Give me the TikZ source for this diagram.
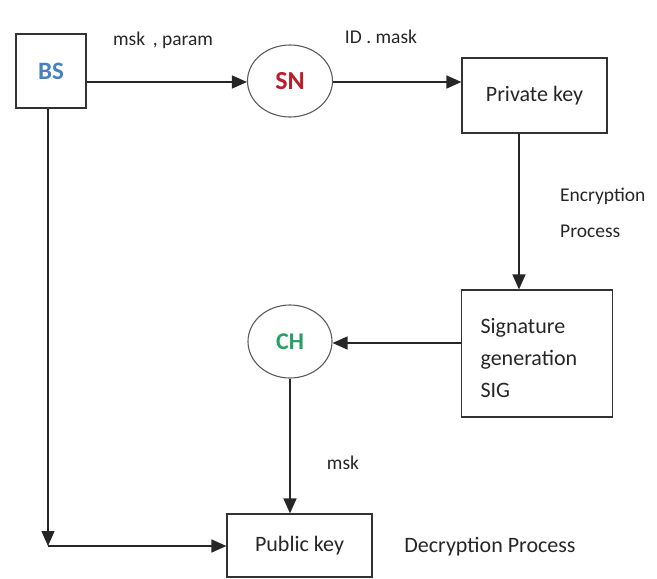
\documentclass[tikz,border=0pt]{standalone}
\usepackage{fontspec}
\setmainfont{Carlito}
\usetikzlibrary{arrows.meta,shapes.geometric}
\definecolor{bsblue}{RGB}{70,130,190}
\definecolor{snred}{RGB}{185,30,45}
\definecolor{chgreen}{RGB}{40,160,100}
\definecolor{edge}{RGB}{50,50,50}
\tikzset{
  box/.style={draw=edge,line width=1.2pt,rectangle,inner sep=0pt,font=\fontsize{22}{32}\selectfont,text=black!85},
  oval/.style={draw=edge!80,line width=1.1pt,ellipse,inner sep=0pt,font=\bfseries\fontsize{26}{30}\selectfont},
  lbl/.style={font=\fontsize{19.5}{36}\selectfont,text=black!85,inner sep=0pt},
  conn/.style={draw=black!85,line width=1.4pt,-{Triangle[length=15pt,width=13pt]}},
  plain/.style={draw=black!85,line width=1.4pt}
}
\begin{document}
\begin{tikzpicture}[x=1pt,y=-1pt]
\useasboundingbox (0,0) rectangle (657,579);
\node[box,minimum width=70pt,minimum height=74pt,text=bsblue,font=\bfseries\fontsize{25}{30}\selectfont] (bs) at (51,71) {BS};
\node[oval,minimum width=85pt,minimum height=72pt,text=snred] (sn) at (290,81) {SN};
\node[box,minimum width=145pt,minimum height=75pt] (pk) at (534.5,95.5) {Private key};
\node[box,minimum width=151pt,minimum height=127pt] (sig) at (537,353.5) {};
\node[box,draw=none,align=left,anchor=west] (sigtext) at (480,358) {Signature\\generation\\SIG};
\node[oval,minimum width=84pt,minimum height=73pt,text=chgreen,font=\bfseries\fontsize{24}{28}\selectfont] (ch) at (290,341.5) {CH};
\node[box,minimum width=145pt,minimum height=63pt] (pub) at (299.5,545.5) {Public key};
\coordinate (corner) at (48,546);
\node[lbl] (l1) at (163,40) {msk\, , param};
\node[lbl] (l2) at (381,37) {ID . mask};
\node[lbl,align=left,anchor=west] (l3) at (560,213) {Encryption\\Process};
\node[lbl] (l4) at (343,463) {msk};
\node[lbl,font=\fontsize{22}{26}\selectfont] (l5) at (490,547) {Decryption Process};
\draw[conn] (bs.east |- 0,82) -- (sn.west |- 0,82);
\draw[conn] (sn.east |- 0,82) -- (pk.west |- 0,82);
\draw[conn] (pk.south -| 519,0) -- (sig.north -| 519,0);
\draw[conn] (sig.west |- 0,343) -- (ch.east |- 0,343);
\draw[conn] (ch.south) -- (pub.north -| ch.south);
\draw[conn] (bs.south -| 48,0) -- (corner);
\draw[conn] (corner) -- (pub.west |- corner);
\end{tikzpicture}
\end{document}
